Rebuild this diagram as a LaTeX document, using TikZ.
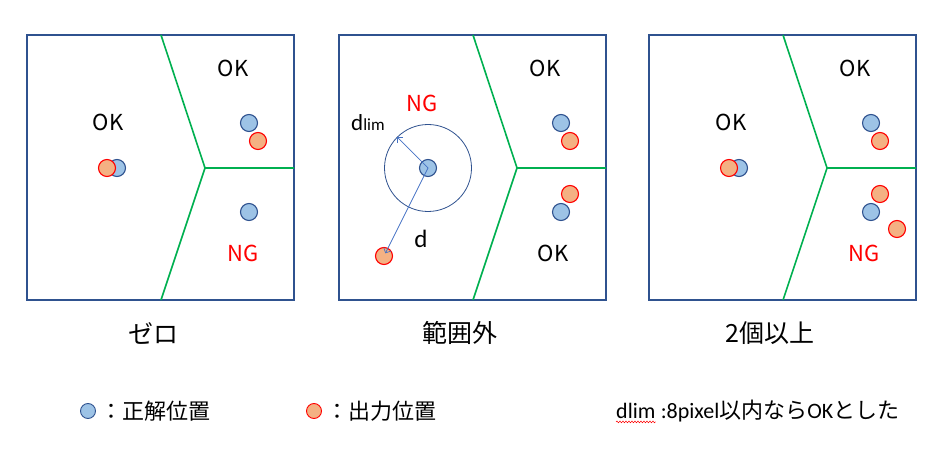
\documentclass[tikz,border=0pt]{standalone}
\usepackage{fontspec}
\setmainfont{Carlito}
\newfontfamily\jp{Noto Sans CJK JP}
\usetikzlibrary{arrows.meta,positioning,decorations.pathmorphing}
\definecolor{frame}{RGB}{47,82,143}
\definecolor{cell}{RGB}{0,176,80}
\definecolor{truthfill}{RGB}{157,195,230}
\definecolor{outfill}{RGB}{244,177,131}
\definecolor{alarm}{RGB}{255,0,0}
\definecolor{ray}{RGB}{68,114,196}
\tikzset{
  >={Straight Barb[length=4pt,width=8pt]},
  truth/.style={circle,draw=frame,fill=truthfill,line width=1.1pt,minimum size=#1,inner sep=0pt},
  truth/.default=17pt,
  output/.style={circle,draw=alarm,fill=outfill,line width=1.1pt,minimum size=#1,inner sep=0pt},
  output/.default=17pt,
  panel/.style={draw=frame,line width=1.3pt},
  border/.style={draw=cell,line width=1.6pt},
  verdict/.style={font=\jp\fontsize{22}{22}\selectfont,text=#1,inner sep=0pt},
  verdict/.default=black,
  caption/.style={font=\jp\fontsize{25}{25}\selectfont,inner sep=0pt},
  legend/.style={font=\jp\fontsize{22}{22}\selectfont,inner sep=0pt,anchor=west},
}
\begin{document}
\begin{tikzpicture}[x=1pt,y=-1pt]
  \useasboundingbox (0,0) rectangle (947,457);
  % frames and cell borders
  \foreach \px in {27,339,649} {
    \draw[panel] (\px,35) rectangle ++(267,265);
    \draw[border] (\px+134,35) -- (\px+178,168) -- (\px+134,300)
      (\px+178,168) -- (\px+267,168);
  }
  % zero
  \node[truth] (t1) at (117,168) {};
  \node[output] (o1) at (107,168) {};
  \node[truth] (t2) at (249,123) {};
  \node[output] (o2) at (258,141) {};
  \node[truth] (t3) at (249,212) {};
  \node[verdict] (k1) at (108,122) {OK};
  \node[verdict] (k2) at (233,68) {OK};
  \node[verdict=alarm] (n1) at (243,253) {NG};
  \node[caption] (c1) at (153,333) {ゼロ};
  % out of range
  \node[circle,draw=frame,line width=0.8pt,minimum size=87pt] (lim) at (428,168) {};
  \node[truth] (t4) at (428,168) {};
  \node[output] (o4) at (384,256) {};
  \draw[ray,line width=0.7pt,->] (t4.center) -- (lim.135);
  \draw[ray,line width=0.7pt,->,shorten >=3pt] (t4.center) -- (o4.center);
  \node[anchor=base west,inner sep=0pt] (dl1) at (351,131)
    {\fontsize{23}{23}\selectfont d\fontsize{17}{17}\selectfont lim};
  \node[anchor=base,inner sep=0pt,font=\fontsize{25}{25}\selectfont] (d1) at (421,247) {d};
  \node[verdict=alarm] (n2) at (422,103) {NG};
  \node[truth] (t5) at (561,123) {};
  \node[output] (o5) at (570,141) {};
  \node[output] (o6) at (570,194) {};
  \node[truth] (t6) at (561,212) {};
  \node[verdict] (k3) at (545,68) {OK};
  \node[verdict] (k4) at (553,253) {OK};
  \node[caption] (c2) at (460,333) {範囲外};
  % two or more
  \node[truth] (t7) at (739,168) {};
  \node[output] (o7) at (729,168) {};
  \node[truth] (t8) at (871,123) {};
  \node[output] (o8) at (880,141) {};
  \node[output] (o9) at (880,194) {};
  \node[truth] (t9) at (871,212) {};
  \node[output] (o10) at (897,229) {};
  \node[verdict] (k5) at (731,122) {OK};
  \node[verdict] (k6) at (855,68) {OK};
  \node[verdict=alarm] (n3) at (864,253) {NG};
  \node[caption] (c3) at (770,333) {2個以上};
  % legend
  \node[truth=15pt,line width=0.9pt] (lt) at (88,411) {};
  \node[legend,right=4pt of lt] (lt text) {：正解位置};
  \node[output=15pt,line width=0.9pt] (lo) at (314,411) {};
  \node[legend,right=4pt of lo] (lo text) {：出力位置};
  \node[anchor=west,inner sep=0pt,font=\fontsize{22}{22}\selectfont] (dl2) at (616,411) {dlim};
  \node[legend,right=0pt of dl2,font=\fontsize{22}{22}\selectfont] (rule)
    {\ :8pixel{\jp 以内なら}OK{\jp とした}};
  \draw[alarm,line width=0.5pt,decorate,decoration={snake,amplitude=0.9pt,segment length=3pt}]
    ([yshift=-3pt]dl2.south west) -- ([yshift=-3pt]dl2.south east);
\end{tikzpicture}
\end{document}
